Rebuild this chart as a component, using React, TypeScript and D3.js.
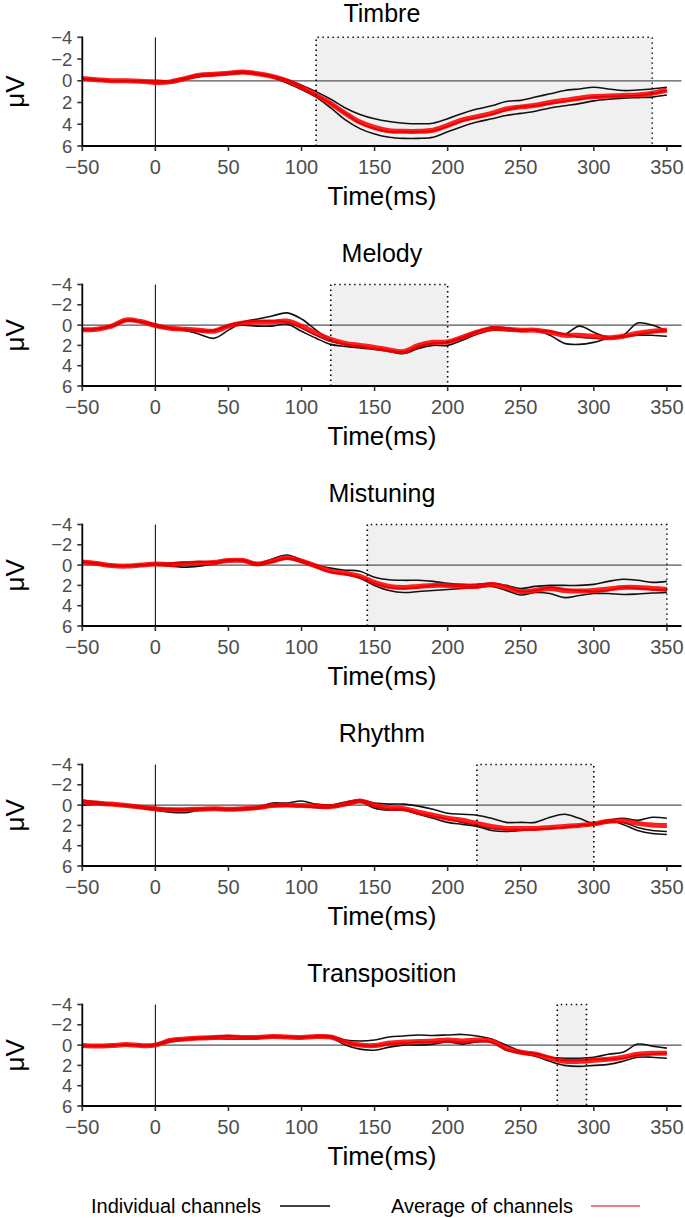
import React from "react";
import * as d3 from "d3";

const times = [-50,-40,-30,-20,-10,0,10,20,30,40,50,60,70,80,90,100,110,120,130,140,150,160,170,180,190,200,210,220,230,240,250,260,270,280,290,300,310,320,330,340,350];

const panelTitles = ["Timbre", "Melody", "Mistuning", "Rhythm", "Transposition"];
const windows = [[110, 340], [120, 200], [145, 350], [220, 300], [275, 295]];

const xTicks = [-50, 0, 50, 100, 150, 200, 250, 300, 350];
const yTicks = [-4, -2, 0, 2, 4, 6];

const timbreAvg = [-0.2,-0.1,0,0,0.05,0.15,0.1,-0.2,-0.5,-0.6,-0.7,-0.8,-0.65,-0.4,0,0.6,1.3,2.1,3.0,3.8,4.3,4.6,4.65,4.65,4.55,4.1,3.6,3.3,3.0,2.6,2.4,2.25,2.0,1.8,1.6,1.45,1.4,1.35,1.3,1.15,0.85];
const timbreCh1 = [-0.2,-0.1,0,0,0,-0.05,0,-0.2,-0.4,-0.5,-0.6,-0.7,-0.6,-0.4,-0.1,0.4,1.0,1.7,2.5,3.1,3.5,3.75,3.9,3.95,3.9,3.5,3.0,2.6,2.3,1.9,1.8,1.5,1.2,0.9,0.75,0.6,0.75,0.9,0.85,0.75,0.6];
const timbreCh2 = [-0.2,-0.1,0,0,0.05,0.2,0.15,-0.1,-0.4,-0.5,-0.65,-0.75,-0.6,-0.3,0.2,0.8,1.5,2.5,3.6,4.4,4.9,5.2,5.3,5.3,5.2,4.7,4.2,3.8,3.5,3.2,3.0,2.8,2.5,2.3,2.1,1.85,1.7,1.6,1.55,1.5,1.3];
const timbreCh3 = [-0.15,-0.1,0,0.05,0.1,0.1,0.05,-0.25,-0.55,-0.65,-0.75,-0.85,-0.7,-0.45,0,0.6,1.35,2.1,3.0,3.9,4.4,4.7,4.7,4.7,4.6,4.2,3.7,3.4,3.1,2.7,2.4,2.3,2.1,1.9,1.7,1.5,1.45,1.4,1.35,1.2,0.9];

const melodyAvg = [0.45,0.4,0.1,-0.5,-0.35,0.05,0.3,0.4,0.5,0.6,0.1,-0.2,-0.3,-0.3,-0.4,0.1,0.8,1.4,1.8,2.0,2.2,2.45,2.6,2.0,1.7,1.65,1.2,0.7,0.35,0.4,0.5,0.5,0.7,1.0,1.0,1.1,1.25,1.1,0.8,0.6,0.5];
const melodyCh1 = [0.45,0.4,0.1,-0.5,-0.35,-0.1,0.3,0.5,0.9,1.3,0.5,-0.3,-0.6,-0.9,-1.2,-0.6,0.5,1.5,1.9,2.1,2.3,2.5,2.65,2.1,1.8,1.7,1.3,0.7,0.2,0.3,0.5,0.5,0.6,0.9,0.1,0.7,1.2,1.0,-0.2,0.0,0.6];
const melodyCh2 = [0.45,0.4,0.1,-0.5,-0.35,0.1,0.35,0.5,0.6,0.6,0.1,0.0,0.1,0.1,-0.1,0.6,1.3,1.9,2.1,2.25,2.4,2.6,2.8,2.3,2.0,2.0,1.5,0.9,0.5,0.5,0.6,0.5,1.0,1.8,1.9,1.7,1.3,1.2,1.0,1.0,1.1];
const melodyCh3 = [0.4,0.4,0.15,-0.4,-0.3,0.1,0.3,0.4,0.5,0.5,0.0,-0.3,-0.4,-0.4,-0.3,0.3,1.0,1.6,1.9,2.1,2.3,2.5,2.7,2.1,1.8,1.7,1.2,0.6,0.3,0.3,0.5,0.5,0.6,0.9,1.2,1.3,1.3,1.1,0.9,0.7,0.5];

const mistuningAvg = [-0.3,-0.15,0.05,0.1,0.0,-0.1,-0.05,-0.15,-0.2,-0.25,-0.45,-0.45,-0.1,-0.4,-0.75,-0.4,0.1,0.6,0.8,1.1,1.7,2.1,2.2,2.1,2.0,2.0,2.1,2.1,1.9,2.2,2.6,2.5,2.3,2.5,2.55,2.5,2.35,2.2,2.2,2.3,2.4];
const mistuningCh1 = [-0.3,-0.15,0.05,0.1,0.0,-0.15,-0.2,-0.3,-0.35,-0.3,-0.5,-0.5,-0.2,-0.6,-1.0,-0.5,0.0,0.3,0.5,0.6,1.2,1.45,1.5,1.5,1.6,1.8,1.9,1.9,1.8,2.0,2.3,2.1,2.0,2.0,2.0,1.9,1.6,1.4,1.5,1.7,1.6];
const mistuningCh2 = [-0.3,-0.1,0.1,0.1,0.0,-0.05,0.1,0.2,0.1,-0.1,-0.4,-0.4,0.0,-0.3,-0.6,-0.3,0.2,0.7,0.9,1.3,2.0,2.5,2.7,2.6,2.5,2.4,2.3,2.2,2.1,2.5,2.95,2.7,2.8,3.2,3.0,2.8,2.8,2.9,2.85,2.75,2.7];
const mistuningCh3 = [-0.3,-0.2,0.0,0.1,0.05,-0.1,-0.1,-0.2,-0.25,-0.3,-0.5,-0.45,-0.1,-0.35,-0.7,-0.4,0.15,0.7,0.9,1.2,1.8,2.2,2.3,2.2,2.0,2.0,2.1,2.1,1.8,2.1,2.6,2.5,2.2,2.4,2.5,2.6,2.5,2.2,2.3,2.4,2.5];

const rhythmAvg = [-0.3,-0.2,-0.1,0.05,0.2,0.35,0.45,0.45,0.4,0.35,0.4,0.35,0.25,0.05,0.0,0.05,0.1,0.15,-0.1,-0.4,0.0,0.3,0.35,0.7,1.0,1.3,1.5,1.8,2.1,2.3,2.3,2.3,2.2,2.1,2.0,1.85,1.6,1.55,1.8,1.95,2.0];
const rhythmCh1 = [-0.5,-0.3,-0.1,0.0,0.15,0.3,0.35,0.4,0.35,0.3,0.35,0.3,0.2,-0.2,-0.2,-0.4,-0.1,0.0,-0.3,-0.5,-0.2,-0.1,-0.1,0.1,0.4,0.8,0.9,1.0,1.3,1.7,1.7,1.7,1.2,0.9,1.3,1.8,1.5,1.3,1.5,1.2,1.3];
const rhythmCh2 = [0.0,-0.1,-0.05,0.1,0.3,0.5,0.7,0.75,0.5,0.4,0.5,0.45,0.35,0.1,0.1,0.1,0.25,0.25,0.0,-0.3,0.3,0.5,0.5,0.9,1.3,1.7,1.9,2.1,2.5,2.6,2.5,2.4,2.3,2.2,2.0,1.9,1.5,1.9,2.5,2.8,2.9];
const rhythmCh3 = [-0.3,-0.2,-0.1,0.05,0.2,0.35,0.5,0.5,0.45,0.4,0.4,0.35,0.25,0.0,0.0,0.1,0.15,0.2,-0.1,-0.45,0.1,0.4,0.4,0.8,1.1,1.4,1.7,2.0,2.3,2.4,2.4,2.4,2.3,2.2,2.0,1.9,1.7,1.7,2.2,2.5,2.6];

const transpositionAvg = [0.05,0.1,0.05,-0.05,0.05,0.0,-0.45,-0.6,-0.7,-0.75,-0.8,-0.75,-0.75,-0.85,-0.8,-0.75,-0.85,-0.8,-0.3,0.0,0.05,-0.2,-0.3,-0.35,-0.4,-0.5,-0.4,-0.5,-0.4,0.3,0.7,0.9,1.3,1.6,1.6,1.5,1.4,1.2,0.9,0.8,0.8];
const transpositionCh1 = [0.05,0.1,0.05,-0.05,0.05,-0.1,-0.5,-0.6,-0.75,-0.85,-0.95,-0.8,-0.8,-0.9,-0.85,-0.8,-0.9,-0.9,-0.5,-0.4,-0.5,-0.8,-0.9,-1.0,-0.95,-1.0,-1.05,-0.9,-0.6,0.0,0.6,0.9,1.2,1.3,1.3,1.2,0.9,0.7,-0.1,0.1,0.3];
const transpositionCh2 = [0.05,0.1,0.05,-0.05,0.05,0.0,-0.3,-0.5,-0.6,-0.65,-0.6,-0.6,-0.65,-0.8,-0.75,-0.7,-0.8,-0.75,0.0,0.4,0.5,0.2,0.0,0.0,-0.1,-0.3,-0.1,-0.3,-0.3,0.5,0.8,1.1,1.6,2.0,2.1,2.0,1.9,1.6,1.2,1.2,1.3];
const transpositionCh3 = [0.05,0.1,0.05,-0.05,0.05,0.0,-0.5,-0.65,-0.7,-0.75,-0.85,-0.8,-0.75,-0.85,-0.8,-0.75,-0.85,-0.8,-0.3,0.0,0.1,-0.1,-0.2,-0.3,-0.3,-0.4,-0.3,-0.4,-0.3,0.4,0.7,0.8,1.2,1.5,1.5,1.4,1.4,1.3,1.0,0.9,0.8];

const panelAvgs = [timbreAvg, melodyAvg, mistuningAvg, rhythmAvg, transpositionAvg];
const panelChannels = [
  [timbreCh1, timbreCh2, timbreCh3],
  [melodyCh1, melodyCh2, melodyCh3],
  [mistuningCh1, mistuningCh2, mistuningCh3],
  [rhythmCh1, rhythmCh2, rhythmCh3],
  [transpositionCh1, transpositionCh2, transpositionCh3],
];

const legendLabels = ["Individual channels", "Average of channels"];

const FONT = "'Liberation Sans', Arial, Helvetica, sans-serif";
const W = 685;
const H = 1218;
const PANEL_STEP = 240;
const X_LEFT = 82.3;
const X_RIGHT = 681.5;

function plotTop(i: number) {
  return i === 0 ? 37.3 : 44.5 + i * PANEL_STEP;
}
function plotBottom(i: number) {
  return 146 + i * PANEL_STEP;
}

function Panel({ index }: { index: number }) {
  const off = index * PANEL_STEP;
  const x = d3.scaleLinear().domain([-50, 360]).range([X_LEFT, X_RIGHT]);
  const y = d3.scaleLinear().domain([-4, 6]).range([plotTop(index), plotBottom(index)]);
  const line = d3
    .line<number>()
    .x((_, i) => x(times[i]))
    .y((d) => y(d))
    .curve(d3.curveCatmullRom.alpha(0.5));
  const [w0, w1] = windows[index];
  const cx = (X_LEFT + X_RIGHT) / 2;
  const dotted = "1.4 3.6";
  const fmt = (t: number) => (t < 0 ? "\u2212" + Math.abs(t) : String(t));
  return (
    <g>
      <text x={cx} y={off + 22} textAnchor="middle" fontSize={25} fontFamily={FONT} fill="#000">
        {panelTitles[index]}
      </text>
      <rect x={x(w0)} y={y(-4)} width={x(w1) - x(w0)} height={y(6) - y(-4)} fill="#f0f0f0" />
      <line x1={X_LEFT} x2={X_RIGHT} y1={y(0)} y2={y(0)} stroke="#555" strokeWidth={1.2} />
      <line x1={x(0)} x2={x(0)} y1={y(-4)} y2={y(6)} stroke="#000" strokeWidth={1} />
      {panelChannels[index].map((ch, k) => (
        <path key={k} d={line(ch) || ""} fill="none" stroke="#111" strokeWidth={1.6} />
      ))}
      <path d={line(panelAvgs[index]) || ""} fill="none" stroke="#ff0000" strokeOpacity={0.88} strokeWidth={5} strokeLinejoin="round" />
      <path
        d={`M${x(w0)},${y(6)}V${y(-4)}H${x(w1)}V${y(6)}`}
        fill="none"
        stroke="#000"
        strokeWidth={1.6}
        strokeDasharray={dotted}
      />
      <line x1={X_LEFT} x2={X_LEFT} y1={y(-4) - 0.8} y2={y(6)} stroke="#000" strokeWidth={1.8} />
      {yTicks.map((t) => (
        <g key={t}>
          <line x1={X_LEFT - 5} x2={X_LEFT} y1={y(t)} y2={y(t)} stroke="#333" strokeWidth={1.6} />
          <text x={X_LEFT - 10} y={y(t)} dy="0.36em" textAnchor="end" fontSize={18.5} fontFamily={FONT} fill="#4d4d4d">
            {fmt(t)}
          </text>
        </g>
      ))}
      <line x1={X_LEFT - 0.9} x2={X_RIGHT} y1={y(6)} y2={y(6)} stroke="#000" strokeWidth={2} />
      {xTicks.map((t) => (
        <g key={t}>
          <line x1={x(t)} x2={x(t)} y1={y(6)} y2={y(6) + 5} stroke="#333" strokeWidth={1.6} />
          <text x={x(t)} y={y(6) + 27.5} textAnchor="middle" fontSize={20} fontFamily={FONT} fill="#4d4d4d">
            {fmt(t)}
          </text>
        </g>
      ))}
      <text x={cx} y={y(6) + 59} textAnchor="middle" fontSize={26} fontFamily={FONT} fill="#000">
        Time(ms)
      </text>
      <text
        transform={`translate(${24},${(y(-4) + y(6)) / 2}) rotate(-90)`}
        textAnchor="middle"
        fontSize={26}
        fontFamily={FONT}
        fill="#000"
      >
        μV
      </text>
    </g>
  );
}

export default function App() {
  return (
    <svg width={W} height={H} style={{ position: "absolute", left: 0, top: 0, background: "#fff" }}>
      <rect x={0} y={0} width={W} height={H} fill="#fff" />
      {panelTitles.map((_, i) => (
        <Panel key={i} index={i} />
      ))}
      <g fontFamily={FONT} fontSize={20} fill="#000">
        <text x={91} y={1212.5}>{legendLabels[0]}</text>
        <line x1={280} x2={330} y1={1206} y2={1206} stroke="#000" strokeWidth={1.5} />
        <text x={391} y={1212.5}>{legendLabels[1]}</text>
        <line x1={591} x2={640} y1={1206} y2={1206} stroke="#f08080" strokeWidth={2} />
      </g>
    </svg>
  );
}
